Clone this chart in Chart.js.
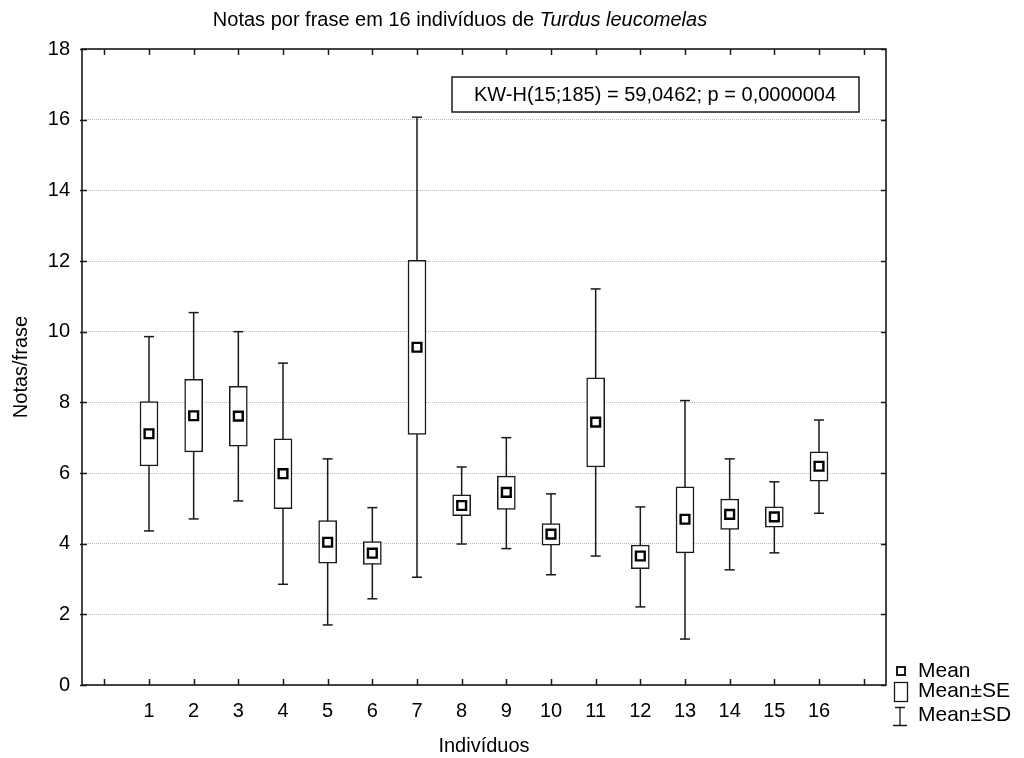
<!DOCTYPE html>
<html>
<head>
<meta charset="utf-8">
<script src="https://cdn.jsdelivr.net/npm/chart.js@4/dist/chart.umd.min.js"></script>
<style>
html,body{margin:0;padding:0;background:#fff}
#wrap{width:1024px;height:758px;position:relative}
</style>
</head>
<body>
<div id="wrap"><canvas id="notas"></canvas></div>
<script>
// valores (notas por frase)
var individuos = [1,2,3,4,5,6,7,8,9,10,11,12,13,14,15,16];
var media  = [7.11,7.62,7.61,5.98,4.04,3.73,9.56,5.08,5.45,4.27,7.44,3.65,4.69,4.83,4.76,6.19];
var seBaixo = [6.20,6.60,6.76,4.99,3.45,3.41,7.09,4.79,4.97,3.96,6.17,3.29,3.74,4.40,4.47,5.77];
var seAlto  = [8.02,8.65,8.45,6.97,4.65,4.06,12.02,5.38,5.91,4.57,8.69,3.96,5.61,5.26,5.04,6.60];
var sdBaixo = [4.36,4.70,5.21,2.85,1.70,2.44,3.05,3.99,3.86,3.12,3.65,2.21,1.30,3.26,3.74,4.86];
var sdAlto  = [9.86,10.54,10.00,9.11,6.40,5.02,16.07,6.17,7.00,5.41,11.21,5.04,8.05,6.40,5.75,7.50];
var xTicks = [0,1,2,3,4,5,6,7,8,9,10,11,12,13,14,15,16,17];
var yMin = 0, yMax = 18, yStep = 2;
var titulo = "Notas por frase em 16 indivíduos de ";
var tituloItalico = "Turdus leucomelas";
var anotacao = "KW-H(15;185) = 59,0462; p = 0,0000004";
var legenda = ["Mean", "Mean±SE", "Mean±SD"];

var fonte = "'Liberation Sans', Arial, sans-serif";
var cor = "#1a1a1a";

var whiskers = [], caps = [], boxes = [], means = [];
for (var i = 0; i < individuos.length; i++) {
    var x = individuos[i];
    whiskers.push({x: x, y: sdBaixo[i]});
    whiskers.push({x: x, y: sdAlto[i]});
    whiskers.push({x: x, y: null});
    caps.push({x: x, y: sdBaixo[i]});
    caps.push({x: x, y: sdAlto[i]});
    boxes.push({x: x, y: [seBaixo[i], seAlto[i]]});
    means.push({x: x, y: media[i]});
}

var moldura = {
    id: 'moldura',
    beforeDatasetsDraw: function(chart) {
        var ctx = chart.ctx, a = chart.chartArea;
        var sx = chart.scales.x, sy = chart.scales.y;
        ctx.save();
        ctx.strokeStyle = cor;
        ctx.lineWidth = 1.5;
        ctx.beginPath();
        sx.ticks.forEach(function(t) {
            var px = Math.round(sx.getPixelForValue(t.value)) + 0.5;
            ctx.moveTo(px, a.bottom); ctx.lineTo(px, a.bottom - 6);
            ctx.moveTo(px, a.top); ctx.lineTo(px, a.top + 6);
        });
        sy.ticks.forEach(function(t) {
            var py = Math.round(sy.getPixelForValue(t.value)) + 0.5;
            ctx.moveTo(a.left - 2, py); ctx.lineTo(a.left + 5, py);
            ctx.moveTo(a.right, py); ctx.lineTo(a.right - 5, py);
        });
        ctx.stroke();
        ctx.lineWidth = 1.6;
        ctx.strokeRect(a.left, a.top, a.right - a.left, a.bottom - a.top);
        ctx.restore();
    },
    afterDraw: function(chart) {
        var ctx = chart.ctx;
        ctx.save();
        ctx.fillStyle = "#000";
        ctx.textBaseline = "middle";
        // título com nome científico em itálico
        var fN = "20px " + fonte, fI = "italic 20px " + fonte;
        ctx.font = fN; var w1 = ctx.measureText(titulo).width;
        ctx.font = fI; var w2 = ctx.measureText(tituloItalico).width;
        var x0 = 460 - (w1 + w2) / 2;
        ctx.textAlign = "left";
        ctx.font = fN; ctx.fillText(titulo, x0, 20);
        ctx.font = fI; ctx.fillText(tituloItalico, x0 + w1, 20);

        // caixa de anotação
        ctx.fillStyle = "#fff";
        ctx.fillRect(452, 77, 407, 35);
        ctx.strokeStyle = cor; ctx.lineWidth = 1.5;
        ctx.strokeRect(452, 77, 407, 35);
        ctx.fillStyle = "#000";
        ctx.font = "20px " + fonte;
        ctx.textAlign = "center";
        ctx.fillText(anotacao, 655, 95);

        // legenda
        ctx.textAlign = "left";
        ctx.font = "21px " + fonte;
        ctx.lineWidth = 2;
        ctx.strokeRect(897, 667, 8, 8);
        ctx.fillText(legenda[0], 918, 671);
        ctx.lineWidth = 1.3;
        ctx.strokeRect(894.5, 682.5, 13, 19);
        ctx.fillText(legenda[1], 918, 691);
        ctx.beginPath();
        ctx.moveTo(895, 707.5); ctx.lineTo(905, 707.5);
        ctx.moveTo(900, 707.5); ctx.lineTo(900, 725.5);
        ctx.moveTo(893, 725.5); ctx.lineTo(907, 725.5);
        ctx.stroke();
        ctx.fillText(legenda[2], 918, 715);
        ctx.restore();
    }
};

var ctx = document.getElementById("notas");
var options = {};
options.type = 'bar';
options.data = {
    datasets: [
        {type: 'line', data: whiskers, borderColor: cor, borderWidth: 1.5, pointRadius: 0, spanGaps: false, order: 4},
        {type: 'scatter', data: caps, pointStyle: 'line', pointRadius: 5, borderColor: cor, borderWidth: 1.5, order: 3},
        {type: 'bar', data: boxes, backgroundColor: '#fff', borderColor: cor, borderWidth: 1.5, borderSkipped: false, barThickness: 18, grouped: false, order: 2},
        {type: 'scatter', data: means, pointStyle: 'rect', pointRadius: 6.2, borderColor: '#000', backgroundColor: '#fff', borderWidth: 2.4, order: 1}
    ]
};
options.plugins = [moldura];
options.options = {
    responsive: true,
    maintainAspectRatio: false,
    animation: false,
    layout: {padding: {top: 49, right: 138, left: 0, bottom: 0}},
    plugins: {legend: {display: false}, tooltip: {enabled: false}},
    scales: {
        x: {
            type: 'linear', min: -0.5, max: 17.5, offset: false,
            grid: {drawOnChartArea: false, drawTicks: false, offset: false},
            border: {display: false},
            afterBuildTicks: function(s) { s.ticks = xTicks.map(function(v) { return {value: v}; }); },
            ticks: {autoSkip: false, maxRotation: 0, padding: 14,
                color: '#000', font: {family: fonte, size: 20},
                callback: function(v) { return (v >= 1 && v <= 16) ? v : ''; }},
            title: {display: true, text: 'Indivíduos', color: '#000', font: {family: fonte, size: 20}, padding: {top: 0, bottom: 0}},
            afterFit: function(s) { s.height = 73; }
        },
        y: {
            min: yMin, max: yMax,
            grid: {color: '#b8b8b8', lineWidth: 1, drawTicks: false},
            border: {display: false, dash: [1, 1]},
            ticks: {stepSize: yStep, padding: 12, color: '#000', font: {family: fonte, size: 20}},
            title: {display: true, text: 'Notas/frase', color: '#000', font: {family: fonte, size: 20}, padding: {top: 9, bottom: 0}},
            afterFit: function(s) { s.width = 82; }
        }
    }
};
new Chart(ctx, options);
</script>
</body>
</html>
